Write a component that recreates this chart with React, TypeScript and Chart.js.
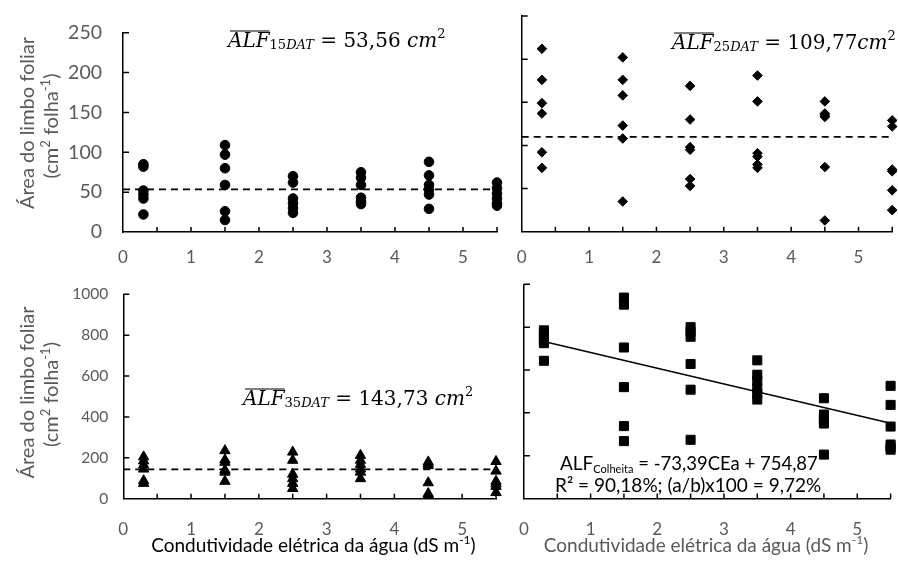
import React, { useEffect, useRef } from "react";
import { Chart, registerables } from "chart.js";

Chart.register(...registerables);

// ---------------- data ----------------
const conductivity = [0.3, 1.5, 2.5, 3.5, 4.5, 5.5];
const xTickLabels = [0, 1, 2, 3, 4, 5];
const xMinorTicks = [0.5, 1, 1.5, 2, 2.5, 3, 3.5, 4, 4.5, 5, 5.5];
const yTicksSmall = [0, 50, 100, 150, 200, 250];
const yTicksLarge = [0, 200, 400, 600, 800, 1000];

const alf15 = [
  [85, 82, 52, 47, 42, 22],
  [109, 97, 80, 59, 26, 15],
  [70, 62, 42, 36, 30, 24],
  [75, 68, 59, 43, 38, 35],
  [88, 71, 59, 53, 47, 29],
  [62, 55, 48, 42, 36, 33],
];
const alf15Mean = 53.56;

const alf25 = [
  [212, 176, 149, 137, 92, 74],
  [202, 176, 158, 123, 108, 35],
  [169, 130, 98, 95, 61, 53],
  [181, 151, 91, 87, 78, 74],
  [151, 137, 135, 133, 75, 13],
  [129, 122, 72, 70, 48, 25],
];
const alf25Mean = 109.77;

const alf35 = [
  [205, 185, 165, 145, 88, 75],
  [235, 190, 178, 140, 130, 85],
  [228, 188, 120, 98, 75, 50],
  [212, 188, 168, 145, 130, 98],
  [180, 172, 162, 78, 25, 18],
  [182, 135, 85, 72, 60, 30],
];
const alf35Mean = 143.73;

const alfHarvest = [
  [785, 770, 755, 740, 725, 643],
  [938, 905, 705, 520, 338, 268],
  [800, 778, 755, 628, 508, 274],
  [645, 578, 550, 515, 490, 462],
  [468, 392, 372, 360, 350, 205],
  [526, 437, 336, 252, 238, 228],
];
const regSlope = -73.39;
const regIntercept = 754.87;
const regRange = [0.3, 5.5];

// ---------------- styles ----------------
const GRAY = "#595959";
const SANS = "Lato, 'Open Sans', sans-serif";
const SERIF = "'DejaVu Serif', 'Liberation Serif', serif";

type Seg = { t: string; size: number; family: string; italic?: boolean; dy?: number; over?: boolean; gap?: number };

function drawSegs(ctx: CanvasRenderingContext2D, segs: Seg[], x: number, y: number, align: "left" | "center", color: string) {
  ctx.save();
  ctx.textBaseline = "alphabetic";
  ctx.textAlign = "left";
  ctx.fillStyle = color;
  ctx.strokeStyle = color;
  const fontOf = (s: Seg) => `${s.italic ? "italic " : ""}${s.size}px ${s.family}`;
  let total = 0;
  const ws = segs.map((s) => {
    ctx.font = fontOf(s);
    const w = ctx.measureText(s.t).width + (s.gap || 0);
    total += w;
    return w;
  });
  let cx = align === "center" ? x - total / 2 : x;
  segs.forEach((s, i) => {
    ctx.font = fontOf(s);
    ctx.fillText(s.t, cx, y + (s.dy || 0));
    if (s.over) {
      ctx.lineWidth = 1.2;
      ctx.beginPath();
      const oy = y - s.size * 0.8;
      ctx.moveTo(cx + 2, oy);
      ctx.lineTo(cx + ws[i], oy);
      ctx.stroke();
    }
    cx += ws[i];
  });
  ctx.restore();
}

function mathLabel(sub: string, value: string, cmGap: string): Seg[] {
  const big = 20;
  const small = 13;
  return [
    { t: "ALF", size: big, family: SERIF, italic: true, over: true },
    { t: sub, size: small, family: SERIF, dy: 2 },
    { t: "DAT", size: small, family: SERIF, italic: true, dy: 2 },
    { t: " = " + value + cmGap, size: big, family: SERIF },
    { t: "cm", size: big, family: SERIF, italic: true },
    { t: "2", size: small, family: SERIF, dy: -9 },
  ];
}

function drawYTitle(ctx: CanvasRenderingContext2D, yc1: number, yc2: number) {
  const s = 20;
  ctx.save();
  ctx.translate(33.5, yc1);
  ctx.rotate(-Math.PI / 2);
  drawSegs(ctx, [{ t: "Área do limbo foliar", size: s, family: SANS }], 0, 0, "center", GRAY);
  ctx.restore();
  ctx.save();
  ctx.translate(58, yc2);
  ctx.rotate(-Math.PI / 2);
  drawSegs(
    ctx,
    [
      { t: "(cm", size: s, family: SANS },
      { t: "2", size: 13, family: SANS, dy: -8 },
      { t: " folha", size: s, family: SANS },
      { t: "-1", size: 13, family: SANS, dy: -8 },
      { t: ")", size: s, family: SANS },
    ],
    0,
    0,
    "center",
    GRAY
  );
  ctx.restore();
}

function drawXTitle(ctx: CanvasRenderingContext2D, xc: number, y: number, color: string) {
  const s = 19;
  drawSegs(
    ctx,
    [
      { t: "Condutividade elétrica da água (dS m", size: s, family: SANS },
      { t: "-1", size: 12, family: SANS, dy: -8 },
      { t: ")", size: s, family: SANS },
    ],
    xc,
    y,
    "center",
    color
  );
}

// ---------------- panels ----------------
type Box = { left: number; top: number; width: number; height: number };
type Area = { left: number; right: number; top: number; bottom: number };
interface PanelSpec {
  key: string;
  box: Box;
  area: Area;
  values: number[][];
  shape: string;
  radius: number;
  yMax: number;
  yTicks: number[];
  showYLabels: boolean;
  yFontSize: number;
  yPad: number;
  xPad: number;
  mean?: number;
  regression?: boolean;
  decorate: (ctx: CanvasRenderingContext2D) => void;
}

const PANELS: PanelSpec[] = [
  {
    key: "tl",
    box: { left: 0, top: 0, width: 510, height: 270 },
    area: { left: 123, right: 497, top: 16, bottom: 232 },
    values: alf15,
    shape: "circle",
    radius: 4.8,
    yMax: 250,
    yTicks: yTicksSmall,
    showYLabels: true,
    yFontSize: 19.5,
    yPad: 21,
    xPad: 15.5,
    mean: alf15Mean,
    decorate: (ctx) => {
      drawSegs(ctx, mathLabel("15", "53,56", " "), 228, 47, "left", "#000");
      drawYTitle(ctx, 123, 126);
    },
  },
  {
    key: "tr",
    box: { left: 498, top: 0, width: 400, height: 270 },
    area: { left: 521.7, right: 892.3, top: 16, bottom: 231.7 },
    values: alf25,
    shape: "rectRot",
    radius: 4.8,
    yMax: 250,
    yTicks: yTicksSmall,
    showYLabels: false,
    yFontSize: 19.5,
    yPad: 21,
    xPad: 15.5,
    mean: alf25Mean,
    decorate: (ctx) => {
      drawSegs(ctx, mathLabel("25", "109,77", ""), 672, 49, "left", "#000");
    },
  },
  {
    key: "bl",
    box: { left: 0, top: 270, width: 510, height: 295 },
    area: { left: 123.3, right: 496, top: 284.5, bottom: 498.7 },
    values: alf35,
    shape: "triangle",
    radius: 6,
    yMax: 1000,
    yTicks: yTicksLarge,
    showYLabels: true,
    yFontSize: 15.5,
    yPad: 15,
    xPad: 21,
    mean: alf35Mean,
    decorate: (ctx) => {
      drawSegs(ctx, mathLabel("35", "143,73", " "), 243, 405, "left", "#000");
      drawYTitle(ctx, 392.5, 394.5);
      drawXTitle(ctx, 313.4, 552, "#000");
    },
  },
  {
    key: "br",
    box: { left: 498, top: 270, width: 400, height: 295 },
    area: { left: 521.7, right: 892.3, top: 284.3, bottom: 498.5 },
    values: alfHarvest,
    shape: "rect",
    radius: 6.4,
    yMax: 1000,
    yTicks: yTicksLarge,
    showYLabels: false,
    yFontSize: 15.5,
    yPad: 15,
    xPad: 21,
    regression: true,
    decorate: (ctx) => {
      drawSegs(
        ctx,
        [
          { t: "ALF", size: 19, family: SANS },
          { t: "Colheita", size: 11, family: SANS, dy: 3 },
          { t: " = -73,39CEa + 754,87", size: 18.5, family: SANS },
        ],
        560,
        470,
        "left",
        "#000"
      );
      drawSegs(ctx, [{ t: "R² = 90,18%; (a/b)x100 = 9,72%", size: 19, family: SANS }], 555, 492, "left", "#000");
      drawXTitle(ctx, 706, 552, GRAY);
    },
  },
];

function buildConfig(spec: PanelSpec): any {
  const { box, area } = spec;
  const points = conductivity.flatMap((x, i) => spec.values[i].map((y) => ({ x, y })));
  const datasets: any[] = [
    {
      type: "scatter",
      data: points,
      showLine: false,
      pointStyle: spec.shape,
      pointRadius: spec.radius,
      pointBackgroundColor: "#000",
      pointBorderColor: "#000",
      pointBorderWidth: 1,
      clip: false,
    },
  ];
  if (spec.mean !== undefined) {
    datasets.push({
      type: "line",
      data: [
        { x: 0, y: spec.mean },
        { x: 5.5, y: spec.mean },
      ],
      showLine: true,
      borderColor: "#000",
      borderWidth: 1.75,
      borderDash: [7, 5],
      pointRadius: 0,
      clip: false,
    });
  }
  if (spec.regression) {
    datasets.push({
      type: "line",
      data: regRange.map((x) => ({ x, y: regSlope * x + regIntercept })),
      showLine: true,
      borderColor: "#000",
      borderWidth: 1.5,
      pointRadius: 0,
      clip: false,
    });
  }

  const decoPlugin = {
    id: "deco_" + spec.key,
    afterDraw(chart: any) {
      const ctx: CanvasRenderingContext2D = chart.ctx;
      const xs = chart.scales.x;
      const ys = chart.scales.y;
      const ca = chart.chartArea;
      ctx.save();
      ctx.strokeStyle = "#000";
      ctx.lineWidth = 1.5;
      ctx.beginPath();
      xMinorTicks.forEach((v) => {
        const px = xs.getPixelForValue(v);
        ctx.moveTo(px, ca.bottom);
        ctx.lineTo(px, ca.bottom - 5);
      });
      spec.yTicks.forEach((v) => {
        if (v === 0) return;
        const py = ys.getPixelForValue(v);
        ctx.moveTo(ca.left, py);
        ctx.lineTo(ca.left + 6, py);
      });
      ctx.stroke();
      ctx.restore();

      ctx.save();
      ctx.translate(-box.left, -box.top);
      spec.decorate(ctx);
      ctx.restore();
    },
  };

  return {
    type: "scatter",
    data: { datasets },
    plugins: [decoPlugin],
    options: {
      animation: false,
      responsive: false,
      maintainAspectRatio: false,
      devicePixelRatio: 1,
      layout: {
        padding: {
          left: 0,
          right: box.left + box.width - area.right,
          top: area.top - box.top,
          bottom: 0,
        },
      },
      plugins: { legend: { display: false }, tooltip: { enabled: false } },
      scales: {
        x: {
          type: "linear",
          min: 0,
          max: 5.5,
          afterBuildTicks: (s: any) => {
            s.ticks = xTickLabels.map((v) => ({ value: v }));
          },
          afterFit: (s: any) => {
            s.height = box.top + box.height - area.bottom;
          },
          grid: { display: false, drawTicks: false },
          border: { display: true, color: "#000", width: 1.5 },
          ticks: {
            padding: spec.xPad,
            color: GRAY,
            font: { family: SANS, size: 17 },
            maxRotation: 0,
            autoSkip: false,
            callback: (v: any) => String(v),
          },
        },
        y: {
          type: "linear",
          min: 0,
          max: spec.yMax,
          afterBuildTicks: (s: any) => {
            s.ticks = spec.yTicks.map((v) => ({ value: v }));
          },
          afterFit: (s: any) => {
            s.width = area.left - box.left;
          },
          grid: { display: false, drawTicks: false },
          border: { display: true, color: "#000", width: 1.5 },
          ticks: {
            display: spec.showYLabels,
            padding: spec.yPad,
            color: GRAY,
            font: { family: SANS, size: spec.yFontSize },
            callback: (v: any) => String(v),
          },
        },
      },
    },
  };
}

function Panel({ spec }: { spec: PanelSpec }) {
  const ref = useRef<HTMLCanvasElement>(null);
  useEffect(() => {
    const canvas = ref.current;
    if (!canvas) return;
    const chart = new Chart(canvas, buildConfig(spec));
    return () => chart.destroy();
  }, [spec]);
  return (
    <canvas
      ref={ref}
      width={spec.box.width}
      height={spec.box.height}
      style={{
        position: "absolute",
        left: spec.box.left,
        top: spec.box.top,
        width: spec.box.width,
        height: spec.box.height,
      }}
    />
  );
}

export default function App() {
  return (
    <div
      style={{
        position: "fixed",
        left: 0,
        top: 0,
        width: 898,
        height: 565,
        background: "#fff",
        overflow: "hidden",
      }}
    >
      {PANELS.map((p) => (
        <Panel key={p.key} spec={p} />
      ))}
    </div>
  );
}
